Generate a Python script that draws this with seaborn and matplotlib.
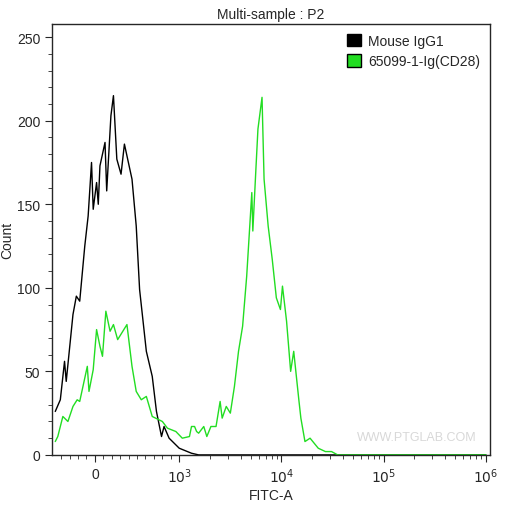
import numpy as np
import pandas as pd
import matplotlib
matplotlib.use("Agg")
import matplotlib.pyplot as plt
import seaborn as sns

sns.set_style("ticks")
plt.rcParams['font.family'] = ['Liberation Sans', 'DejaVu Sans']

# x in display decade units: 0 -> 0, 1 -> 10^3, 2 -> 10^4, 3 -> 10^5, 4 -> 10^6
iso_x = [-0.47,-0.41,-0.36,-0.34,-0.32,-0.26,-0.22,-0.18,-0.12,-0.08,-0.04,-0.02,0.02,0.04,0.06,0.12,0.14,0.19,0.22,0.26,0.31,0.35,0.44,0.49,0.53,0.61,0.68,0.73,0.79,0.82,0.88,1.0,1.12,1.19,4.0]
iso_y = [26,33,56,44,54,84,95,92,125,143,175,147,163,150,173,187,158,203,215,177,168,186,165,137,99,62,47,26,11,17,10,4,1,0,0]
cd28_x = [-0.47,-0.44,-0.38,-0.32,-0.26,-0.21,-0.18,-0.09,-0.07,-0.02,0.02,0.06,0.09,0.13,0.18,0.22,0.27,0.38,0.44,0.49,0.55,0.61,0.68,0.8,0.86,0.96,1.03,1.10,1.12,1.15,1.17,1.19,1.24,1.27,1.31,1.36,1.40,1.42,1.46,1.50,1.54,1.58,1.62,1.66,1.71,1.72,1.75,1.77,1.81,1.83,1.87,1.91,1.95,1.99,2.01,2.05,2.09,2.12,2.17,2.19,2.23,2.28,2.36,2.43,2.49,2.55,4.0]
cd28_y = [8,11,23,20,29,33,32,53,38,51,75,65,59,86,74,78,69,78,53,38,33,35,23,20,16,14,10,11,17,17,14,13,17,11,17,17,32,22,29,25,41,62,77,107,157,134,171,195,214,165,137,117,94,87,101,80,50,62,33,22,8,10,4,2,2,0,0]
tick_pos = [0, 1, 2, 3, 4]
tick_labels = ["0", r"$10^3$", r"$10^4$", r"$10^5$", r"$10^6$"]

df = pd.concat([
    pd.DataFrame({"x": iso_x, "y": iso_y, "s": "Mouse IgG1"}),
    pd.DataFrame({"x": cd28_x, "y": cd28_y, "s": "65099-1-Ig(CD28)"}),
])

K = 0.825
def fwd(x):
    x = np.asarray(x, float)
    return np.where(x <= 1, x * K, x - (1 - K))
def inv(x):
    x = np.asarray(x, float)
    return np.where(x <= K, x / K, x + (1 - K))

fig = plt.figure(figsize=(5.12, 5.06), dpi=100)
ax = fig.add_axes([0.102, 0.099, 0.855, 0.852])
pal = {"Mouse IgG1": "#000000", "65099-1-Ig(CD28)": "#22dd22"}
sns.lineplot(data=df, x="x", y="y", hue="s", palette=pal, ax=ax, lw=1.0,
             sort=False, estimator=None, legend=False)
ax.set_xscale("function", functions=(fwd, inv))
ax.set_xlim(-0.506, 4.04)
ax.set_ylim(0, 258)
ax.set_xticks(tick_pos)
ax.set_xticklabels(tick_labels, fontsize=10)
minor = list(np.arange(-0.4, 0.95, 0.1))
for d in range(1, 4):
    minor += [d + np.log10(k) for k in range(2, 10)]
ax.set_xticks(minor, minor=True)
ax.set_xticklabels([], minor=True)
ax.set_yticks(range(0, 251, 50))
ax.set_yticks(range(0, 258, 10), minor=True)
ax.tick_params(labelsize=10, direction="out", length=5)
ax.tick_params(which="minor", length=3)
for sp in ax.spines.values():
    sp.set_visible(True)
    sp.set_linewidth(1)
ax.set_xlabel("FITC-A", fontsize=10, labelpad=2)
ax.set_ylabel("Count", fontsize=10, labelpad=2)
ax.set_title("Multi-sample : P2", fontsize=10, pad=4)
from matplotlib.patches import Patch
handles = [Patch(facecolor=c, edgecolor="black", label=k) for k, c in pal.items()]
ax.legend(handles=handles, loc="upper right", frameon=False, fontsize=10,
          handlelength=1.0, handleheight=1.0, handletextpad=0.5, borderaxespad=0.3)
ax.text(0.97, 0.035, "WWW.PTGLAB.COM", transform=ax.transAxes, ha="right",
        color="#d8d8d8", fontsize=9)
fig.savefig("out.png", dpi=100)
